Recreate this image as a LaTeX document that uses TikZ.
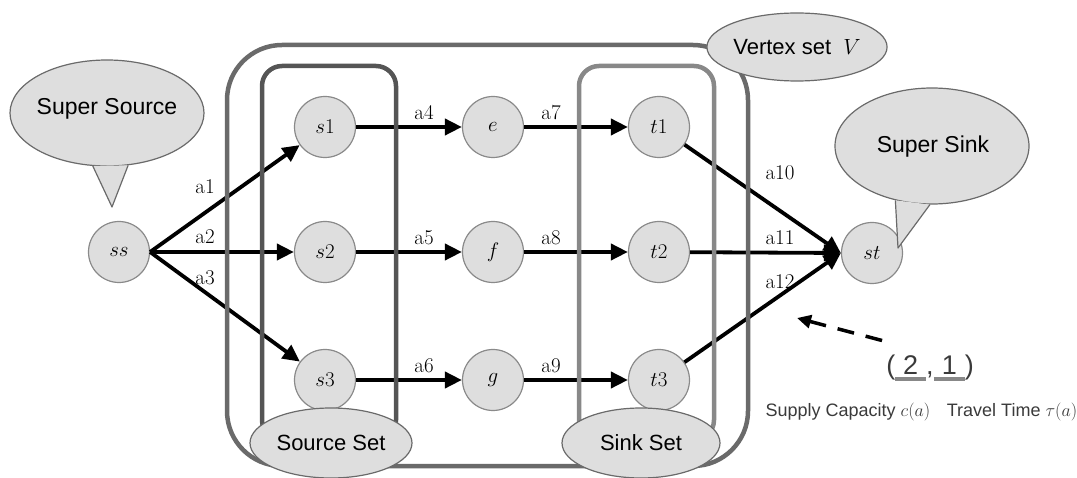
\RequirePackage{fix-cm}
\documentclass[tikz,border=0pt]{standalone}
\usepackage{fontspec}
\usepackage{amsmath}
\usetikzlibrary{arrows.meta}
\newfontfamily\labelfont{Liberation Sans}
\definecolor{nodegray}{HTML}{DEDEDE}
\definecolor{rimgray}{HTML}{8A8A8A}
\definecolor{outergray}{HTML}{6A6A6A}
\definecolor{srcgray}{HTML}{555555}
\definecolor{snkgray}{HTML}{888888}
\definecolor{textgray}{HTML}{3A3A3A}
\newcommand{\capul}[1]{\setbox0\hbox{\makebox[31pt]{#1}}\rlap{\color{snkgray}\rule[-7pt]{\wd0}{4pt}}\box0}
\tikzset{
  vertex/.style={circle,draw=rimgray,fill=nodegray,line width=1.2pt,minimum size=61pt,inner sep=0pt,font=\fontsize{21}{22}\selectfont},
  arc/.style={-{Triangle[length=17pt,width=16pt]},line width=3.8pt},
  arclabel/.style={font=\fontsize{21}{22}\selectfont},
  setlabel/.style={ellipse,draw=outergray,fill=nodegray,line width=1.2pt,inner sep=0pt,font=\labelfont\fontsize{22}{24}\selectfont},
  bubbletail/.style={draw=outergray,fill=nodegray,line width=1.2pt,line join=round},
  setbox/.style={line width=4.5pt,rounded corners=#1},
}
\usetikzlibrary{shapes.geometric}
\begin{document}
\begin{tikzpicture}[x=1pt,y=-1pt]
\useasboundingbox (0,0) rectangle (1077,478);

\node[vertex](ss) at (119,252){$ss$};
\node[vertex](s1) at (325,127){$s1$};
\node[vertex](s2) at (325,252){$s2$};
\node[vertex](s3) at (325,380){$s3$};
\node[vertex](e) at (493,127){$e$};
\node[vertex](f) at (493,252){$f$};
\node[vertex](g) at (493,380){$g$};
\node[vertex](t1) at (659,127){$t1$};
\node[vertex](t2) at (659,252){$t2$};
\node[vertex](t3) at (659,380){$t3$};
\node[vertex](st) at (872,253){$st$};

\draw[arc](ss.east)--(s1);
\draw[arc](ss.east)--(s2);
\draw[arc](ss.east)--(s3);
\draw[arc](s1)--(e);
\draw[arc](s2)--(f);
\draw[arc](s3)--(g);
\draw[arc](e)--(t1);
\draw[arc](f)--(t2);
\draw[arc](g)--(t3);
\draw[arc](t1)--(st.west);
\draw[arc](t2)--(st.west);
\draw[arc](t3)--(st.west);

\node[arclabel](l1) at (205,187){a1};
\node[arclabel](l2) at (205,237){a2};
\node[arclabel](l3) at (205,278){a3};
\node[arclabel](l4) at (424,113){a4};
\node[arclabel](l5) at (424,238){a5};
\node[arclabel](l6) at (424,366){a6};
\node[arclabel](l7) at (551,113){a7};
\node[arclabel](l8) at (551,238){a8};
\node[arclabel](l9) at (551,366){a9};
\node[arclabel](l10) at (780,173){a10};
\node[arclabel](l11) at (780,238){a11};
\node[arclabel](l12) at (780,282){a12};

\draw[setbox=55pt,draw=outergray](227,45) rectangle (748,466);
\draw[setbox=20pt,draw=srcgray](262,66) rectangle (396,440);
\draw[setbox=20pt,draw=snkgray](579,66) rectangle (714,440);

\node[setlabel,minimum width=162pt,minimum height=70pt](srcset) at (331,443){Source Set};
\node[setlabel,minimum width=158pt,minimum height=70pt](snkset) at (641,443){Sink Set};
\node[setlabel,minimum width=160pt,minimum height=68pt](vset) at (797,47){Vertex set\ \ $V$};

\node[setlabel,minimum width=194pt,minimum height=106pt](supsrc) at (107,113){};
\coordinate (srctip) at (112,207);
\filldraw[bubbletail](supsrc.-105)--(srctip)--(supsrc.-68);
\node[font=\labelfont\fontsize{23}{25}\selectfont](supsrctext) at (107,109){Super Source};

\node[setlabel,minimum width=194pt,minimum height=116pt](supsnk) at (932,146){};
\coordinate (snktip) at (898,248);
\filldraw[bubbletail](supsnk.-124)--(snktip)--(supsnk.-92);
\node[font=\labelfont\fontsize{23}{25}\selectfont](supsnktext) at (933,147){Super Sink};

\node[text=textgray,font=\labelfont\fontsize{27}{29}\selectfont,inner sep=0pt](pair) at (930,368){(\capul{2},\capul{1})};
\coordinate (pairarc) at (797,318);
\draw[-{Triangle[length=14pt,width=13pt]},line width=3.5pt,dash pattern=on 17pt off 12pt](pair.north west)++(-4,-14)--(pairarc);
\node[text=textgray,font=\labelfont\fontsize{18}{20}\selectfont](capc) at (848,412){Supply Capacity $c(a)$};
\node[text=textgray,font=\labelfont\fontsize{18}{20}\selectfont](capt) at (1012,412){Travel Time $\tau(a)$};
\end{tikzpicture}
\end{document}
